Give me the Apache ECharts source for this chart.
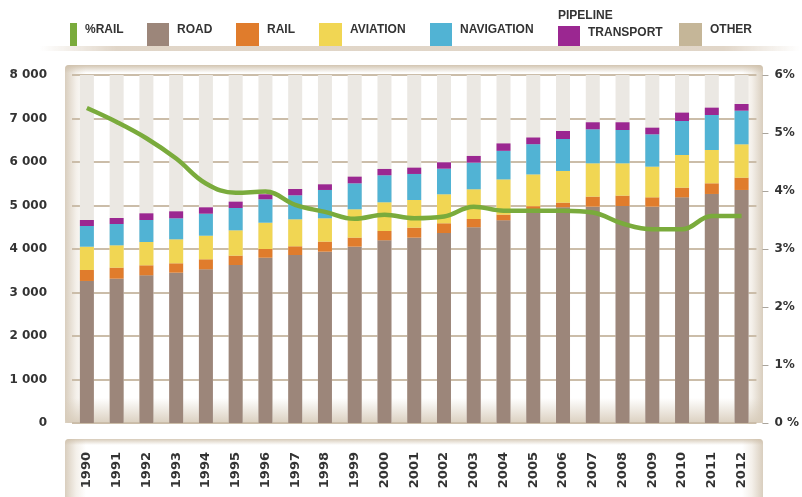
<!DOCTYPE html>
<html>
<head>
<meta charset="utf-8">
<style>
body { margin: 0; background: #ffffff; }
#container { width: 802px; height: 497px; }
</style>
<title>Transport</title>
</head>
<body>
<div id="container"></div>
<script src="https://cdn.jsdelivr.net/npm/echarts@6/dist/echarts.min.js"></script>
<script type="text/javascript">

	var years = ['1990', '1991', '1992', '1993', '1994', '1995', '1996', '1997', '1998', '1999', '2000', '2001',
		'2002', '2003', '2004', '2005', '2006', '2007', '2008', '2009', '2010', '2011', '2012'];
	var road = [3265, 3318, 3395, 3456, 3533, 3632, 3800, 3862, 3939, 4054, 4200, 4261,
		4368, 4500, 4660, 4905, 4959, 4973, 4989, 4973, 5188, 5265, 5357];
	var rail = [252, 253, 230, 215, 230, 215, 200, 200, 230, 207, 214, 229,
		223, 190, 130, 80, 106, 230, 237, 215, 222, 245, 283];
	var aviation = [536, 514, 536, 552, 543, 583, 605, 621, 537, 652, 660, 637,
		667, 683, 810, 730, 729, 767, 744, 705, 751, 766, 767];
	var navigation = [476, 490, 506, 483, 506, 513, 538, 552, 651, 597, 621, 598,
		589, 612, 657, 695, 735, 782, 766, 744, 782, 805, 773];
	var pipeline = [138, 138, 153, 160, 146, 145, 115, 145, 130, 153, 145, 145,
		146, 154, 170, 153, 184, 161, 177, 152, 192, 168, 154];
	var other = [0, 0, 0, 0, 0, 0, 0, 0, 0, 0, 0, 0,
		0, 0, 0, 0, 0, 0, 0, 0, 0, 0, 0];
	var railShare = [5.43, 5.19, 4.91, 4.56, 4.13, 3.97, 3.99, 3.76, 3.64, 3.52, 3.59, 3.53,
		3.56, 3.73, 3.66, 3.66, 3.66, 3.63, 3.44, 3.34, 3.34, 3.57, 3.57];

	var colors = {
		'%RAIL': '#7aab3c',
		'ROAD': '#9c867a',
		'RAIL': '#e07c2c',
		'AVIATION': '#f1d653',
		'NAVIGATION': '#51b3d4',
		'PIPELINE TRANSPORT': '#9b2791',
		'OTHER': '#c5b698'
	};

	var container = document.getElementById("container");
	var myChart = echarts.init(container);

	var labelFont = { fontFamily: 'DejaVu Sans', fontWeight: 'bold', fontSize: 12, color: '#333' };
	var legendText = { fontFamily: 'Liberation Sans', fontWeight: 'bold', fontSize: 12, color: '#333' };

	//one legend block per item so each sits where the picture has it
	//text is pushed up with an empty second line (b), like the original
	function legendItem(name, left, width, top, drop, text) {
		return {
			data: [name],
			left: left,
			top: top,
			padding: 0,
			icon: 'rect',
			itemWidth: width,
			itemHeight: 23 - (top - 23),
			selectedMode: false,
			formatter: function () { return '{a|' + (text || name) + '}\n{b| }'; },
			textStyle: Object.assign({
				rich: {
					a: { fontFamily: 'Liberation Sans', fontWeight: 'bold', fontSize: 12, color: '#333', lineHeight: 14, padding: [0, 0, 0, 3] },
					b: { fontSize: 4, lineHeight: drop }
				}
			}, legendText)
		};
	}

	function edgeGradient(edge) {
		return new echarts.graphic.LinearGradient(0, 0, 1, 0, [
			{ offset: 0, color: edge },
			{ offset: 0.016, color: '#f4f0ea' },
			{ offset: 0.03, color: '#ffffff' },
			{ offset: 0.97, color: '#ffffff' },
			{ offset: 0.984, color: '#f4f0ea' },
			{ offset: 1, color: edge }
		]);
	}

	function barSeries(name, data) {
		var s = {
			name: name,
			type: 'bar',
			stack: 'total',
			barWidth: 14,
			data: data,
			itemStyle: { color: colors[name] },
			emphasis: { disabled: true }
		};
		if (name === 'ROAD') {
			s.showBackground = true;
			s.backgroundStyle = { color: '#ebe8e3' };
		}
		return s;
	}

	var option = {
		animation: false,
		graphic: [
			{
				type: 'rect', z: -10,
				shape: { x: 65, y: 65, width: 698, height: 358, r: 4 },
				style: { fill: edgeGradient('#d9cebe') }
			},
			{
				type: 'rect', z: -9,
				shape: { x: 65, y: 65, width: 698, height: 8, r: [4, 4, 0, 0] },
				style: { fill: new echarts.graphic.LinearGradient(0, 0, 0, 1, [
					{ offset: 0, color: 'rgba(205,190,168,0.9)' },
					{ offset: 1, color: 'rgba(205,190,168,0)' }
				]) }
			},
			{
				type: 'rect', z: -9,
				shape: { x: 65, y: 398, width: 698, height: 25 },
				style: { fill: new echarts.graphic.LinearGradient(0, 0, 0, 1, [
					{ offset: 0, color: 'rgba(215,203,185,0)' },
					{ offset: 1, color: 'rgba(215,203,185,0.9)' }
				]) }
			},
			{
				type: 'rect', z: -10,
				shape: { x: 65, y: 439, width: 698, height: 70, r: 4 },
				style: { fill: edgeGradient('#d9cebe') }
			},
			{
				type: 'rect', z: -9,
				shape: { x: 65, y: 439, width: 698, height: 6, r: [4, 4, 0, 0] },
				style: { fill: new echarts.graphic.LinearGradient(0, 0, 0, 1, [
					{ offset: 0, color: 'rgba(205,190,168,0.8)' },
					{ offset: 1, color: 'rgba(205,190,168,0)' }
				]) }
			},
			{
				type: 'rect', z: -10,
				shape: { x: 40, y: 46, width: 760, height: 5 },
				style: { fill: new echarts.graphic.LinearGradient(0, 0, 1, 0, [
					{ offset: 0, color: 'rgba(200,180,155,0)' },
					{ offset: 0.1, color: 'rgba(200,180,155,0.55)' },
					{ offset: 0.9, color: 'rgba(200,180,155,0.55)' },
					{ offset: 1, color: 'rgba(200,180,155,0)' }
				]) }
			},
			{
				type: 'text', left: 558, top: 10,
				style: Object.assign({ text: 'PIPELINE' }, legendText, { fill: '#333' })
			}
		],
		legend: [
			legendItem('%RAIL', 70, 7, 23, 10),
			legendItem('ROAD', 147, 22, 23, 10),
			legendItem('RAIL', 236, 23, 23, 10),
			legendItem('AVIATION', 319, 23, 23, 10),
			legendItem('NAVIGATION', 430, 22, 23, 10),
			legendItem('PIPELINE TRANSPORT', 558, 22, 26, 6, 'TRANSPORT'),
			legendItem('OTHER', 679, 23, 23, 10)
		],
		grid: {
			left: 72,
			right: 45,
			top: 75,
			bottom: 74
		},
		xAxis: {
			type: 'category',
			data: years,
			axisLine: { show: false },
			axisTick: { show: false },
			axisLabel: Object.assign({ rotate: 90, margin: 29 }, labelFont, { fontSize: 13 })
		},
		yAxis: [
			{
				type: 'value',
				min: 0,
				max: 8000,
				interval: 1000,
				axisLine: { show: false },
				axisTick: { show: false },
				splitLine: { lineStyle: { color: '#cbbda9', width: 2 } },
				axisLabel: Object.assign({
					margin: 25,
					formatter: function (v) { return v === 0 ? '0' : (v / 1000) + ' 000'; }
				}, labelFont)
			},
			{
				type: 'value',
				position: 'right',
				offset: 6,
				min: 0,
				max: 6,
				interval: 1,
				axisLine: { show: false },
				axisTick: { show: true, length: 6, lineStyle: { color: '#a9a49c', width: 1 } },
				splitLine: { show: false },
				axisLabel: Object.assign({
					margin: 12,
					formatter: function (v) { return v === 0 ? '0 %' : v + '%'; }
				}, labelFont)
			}
		],
		series: [
			barSeries('ROAD', road),
			barSeries('RAIL', rail),
			barSeries('AVIATION', aviation),
			barSeries('NAVIGATION', navigation),
			barSeries('PIPELINE TRANSPORT', pipeline),
			barSeries('OTHER', other),
			{
				name: '%RAIL',
				type: 'line',
				yAxisIndex: 1,
				data: railShare,
				smooth: 0.4,
				symbol: 'none',
				z: 5,
				itemStyle: { color: colors['%RAIL'] },
				lineStyle: { color: colors['%RAIL'], width: 4.5 },
				emphasis: { disabled: true }
			}
		]
	};

	myChart.setOption(option, true);
</script>
</body>
</html>
